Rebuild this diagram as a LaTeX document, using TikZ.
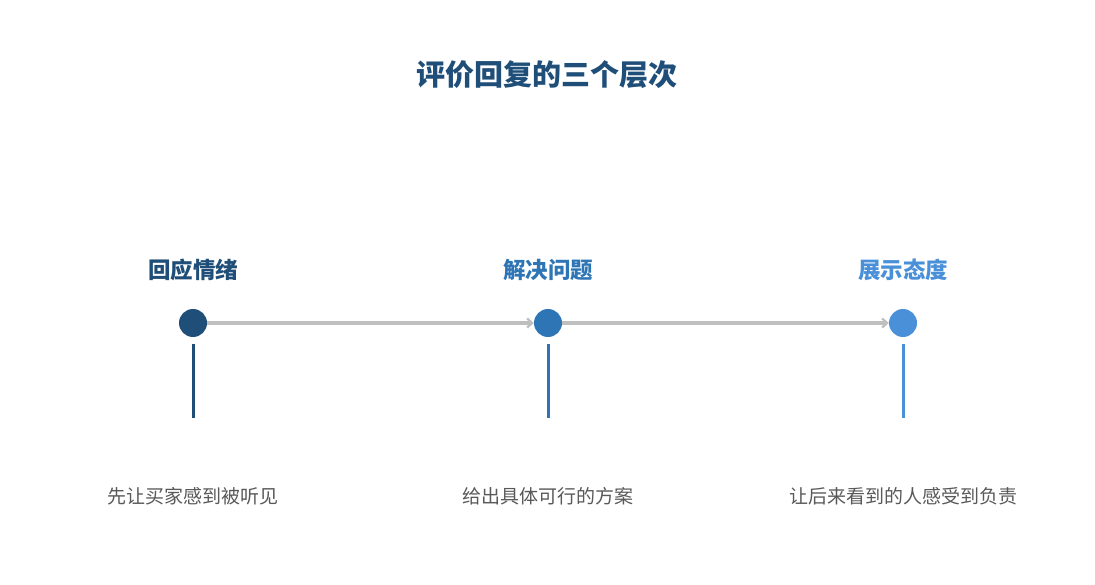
\documentclass[tikz,border=0pt]{standalone}
\usepackage{fontspec}
\setmainfont{Noto Sans CJK SC}
\usetikzlibrary{arrows.meta}
\definecolor{cdark}{HTML}{1F4E79}
\definecolor{cmid}{HTML}{2E75B6}
\definecolor{clight}{HTML}{4A90D9}
\definecolor{cgray}{HTML}{BFBFBF}
\definecolor{ctext}{HTML}{595959}
\begin{document}
\begin{tikzpicture}[x=1pt,y=-1pt,
  dot/.style={circle,inner sep=0pt,minimum size=28pt},
  ttl/.style={font=\fontsize{22.5}{26}\selectfont\bfseries,inner sep=0pt},
  desc/.style={font=\fontsize{19}{22}\selectfont,text=ctext,inner sep=0pt},
  conn/.style={draw=cgray,line width=3.2pt,-{Straight Barb[length=5pt,width=9pt,line width=2.2pt]}},
  stem/.style={line width=3pt}]
\useasboundingbox (0,0) rectangle (1095,585);
\fill[white] (0,0) rectangle (1095,585);
\node[font=\fontsize{29}{32}\selectfont\bfseries,text=cdark,inner sep=0pt] (title) at (547,75) {评价回复的三个层次};
\node[dot,fill=cdark] (c1) at (193,323) {};
\node[dot,fill=cmid] (c2) at (548,323) {};
\node[dot,fill=clight] (c3) at (903,323) {};
\node[ttl,text=cdark] (t1) at (193,270) {回应情绪};
\node[ttl,text=cmid] (t2) at (548,270) {解决问题};
\node[ttl,text=clight] (t3) at (903,270) {展示态度};
\coordinate (s1a) at (193,344); \coordinate (s1b) at (193,418);
\coordinate (s2a) at (548,344); \coordinate (s2b) at (548,418);
\coordinate (s3a) at (903,344); \coordinate (s3b) at (903,418);
\draw[stem,draw=cdark] (s1a) -- (s1b);
\draw[stem,draw=cmid] (s2a) -- (s2b);
\draw[stem,draw=clight] (s3a) -- (s3b);
\draw[conn] (c1.east) -- (c2.west);
\draw[conn] (c2.east) -- (c3.west);
\node[desc] (d1) at (193,496) {先让买家感到被听见};
\node[desc] (d2) at (548,496) {给出具体可行的方案};
\node[desc] (d3) at (903,496) {让后来看到的人感受到负责};
\end{tikzpicture}
\end{document}
